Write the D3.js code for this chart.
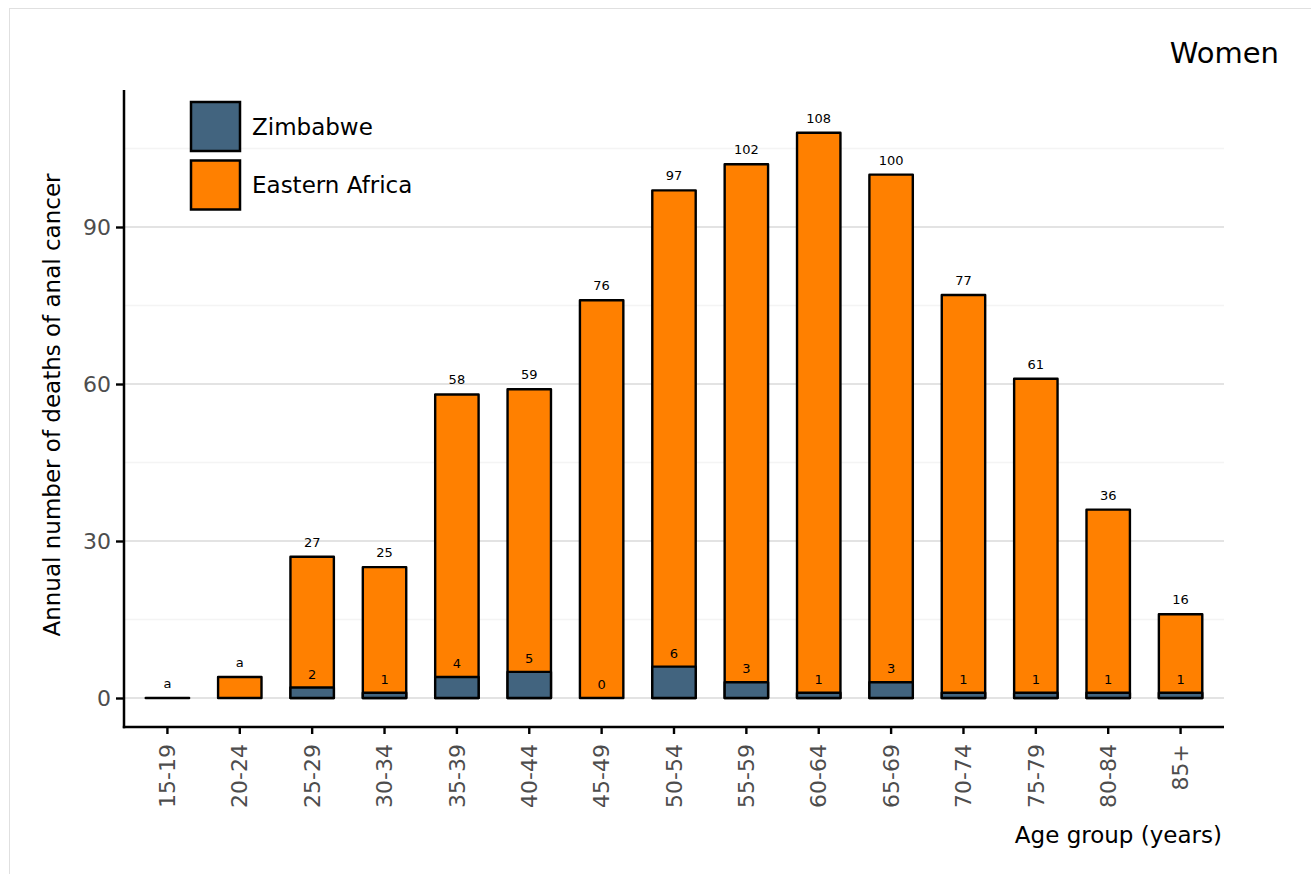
<!DOCTYPE html>
<html><head><meta charset="utf-8">
<script src="https://cdn.jsdelivr.net/npm/d3@7"></script>
<style>body{margin:0;background:#fff;} svg{display:block;font-family:"DejaVu Sans",sans-serif;}</style>
</head><body>
<svg id="c" width="1311" height="874"></svg>
<script>
const categories = ["15-19","20-24","25-29","30-34","35-39","40-44","45-49","50-54","55-59","60-64","65-69","70-74","75-79","80-84","85+"];
const easternAfrica = [0,4,27,25,58,59,76,97,102,108,100,77,61,36,16];
const easternLabels = ["a","a","27","25","58","59","76","97","102","108","100","77","61","36","16"];
const zimbabwe = [null,null,2,1,4,5,0,6,3,1,3,1,1,1,1];
const majorTicks = [0,30,60,90];
const minorTicks = [15,45,75,105];
const seriesNames = ["Zimbabwe","Eastern Africa"];
const colors = ["#42647f","#ff8000"];

const svg = d3.select("#c");
svg.append("rect").attr("x",9.5).attr("y",8.5).attr("width",1400).attr("height",1000)
  .attr("fill","none").attr("stroke","#e0e0e0").attr("stroke-width",1);

const L=124,R=1224,T=90,B=727;
const x = d3.scaleBand().domain(categories).range([L,R]).paddingInner(0.4).paddingOuter(0.3);
const y = d3.scaleLinear().domain([0,90]).range([698,227]);

const g = svg.append("g");
g.selectAll(".minor").data(minorTicks).join("line")
  .attr("x1",L).attr("x2",R).attr("y1",d=>y(d)).attr("y2",d=>y(d))
  .attr("stroke","#f4f4f4").attr("stroke-width",1.5);
g.selectAll(".major").data(majorTicks).join("line")
  .attr("x1",L).attr("x2",R).attr("y1",d=>y(d)).attr("y2",d=>y(d))
  .attr("stroke","#e3e3e3").attr("stroke-width",2);

function barPath(c,v){
  const x0=x(c), x1=x(c)+x.bandwidth(), y0=y(0), y1=y(v);
  return `M${x0},${y0}L${x0},${y1}L${x1},${y1}L${x1},${y0}Z`;
}
g.selectAll(".ea").data(categories).join("path")
  .attr("d",(d,i)=>barPath(d,easternAfrica[i]))
  .attr("fill",colors[1]).attr("stroke","#000").attr("stroke-width",2.4).attr("stroke-linejoin","round");
const zi = categories.map((c,i)=>({c,v:zimbabwe[i]})).filter(d=>d.v!==null && d.v>0);
g.selectAll(".zw").data(zi).join("path")
  .attr("d",d=>barPath(d.c,d.v))
  .attr("fill",colors[0]).attr("stroke","#000").attr("stroke-width",2.4).attr("stroke-linejoin","round");

g.selectAll(".eal").data(categories).join("text")
  .attr("x",d=>x(d)+x.bandwidth()/2).attr("y",(d,i)=>y(easternAfrica[i])-10)
  .attr("text-anchor","middle").attr("font-size",13).attr("fill","#000")
  .text((d,i)=>easternLabels[i]);
const zl = categories.map((c,i)=>({c,v:zimbabwe[i]})).filter(d=>d.v!==null);
g.selectAll(".zwl").data(zl).join("text")
  .attr("x",d=>x(d.c)+x.bandwidth()/2).attr("y",d=>y(d.v)-9)
  .attr("text-anchor","middle").attr("font-size",13).attr("fill","#000")
  .text(d=>d.v);

const yAxis = d3.axisLeft(y).tickValues(majorTicks).tickSize(8).tickPadding(5);
const ya = svg.append("g").attr("transform",`translate(${L},0)`).call(yAxis);
ya.select(".domain").remove();
ya.selectAll(".tick line").attr("stroke","#000").attr("stroke-width",2.4);
ya.selectAll(".tick text").attr("font-size",22).attr("fill","#4d4d4d").attr("font-family","DejaVu Sans");
svg.append("line").attr("x1",L).attr("x2",L).attr("y1",T).attr("y2",B+1.2).attr("stroke","#000").attr("stroke-width",2.5);

const xAxis = d3.axisBottom(x).tickSize(7).tickPadding(6);
const xa = svg.append("g").attr("transform",`translate(0,${B})`).call(xAxis);
xa.select(".domain").remove();
xa.selectAll(".tick line").attr("stroke","#000").attr("stroke-width",2.4);
xa.selectAll(".tick text").attr("font-size",22).attr("fill","#4d4d4d").attr("font-family","DejaVu Sans")
  .attr("transform","rotate(-90)").attr("text-anchor","end").attr("dy","0.35em").attr("x",-17).attr("y",0);
svg.append("line").attr("x1",L-1.2).attr("x2",R).attr("y1",B).attr("y2",B).attr("stroke","#000").attr("stroke-width",2.5);

svg.append("text").attr("transform","translate(60,405) rotate(-90)").attr("text-anchor","middle")
  .attr("font-size",23).attr("fill","#000").text("Annual number of deaths of anal cancer");
svg.append("text").attr("x",1222).attr("y",843).attr("text-anchor","end")
  .attr("font-size",23).attr("fill","#000").text("Age group (years)");
svg.append("text").attr("x",1279).attr("y",63).attr("text-anchor","end")
  .attr("font-size",29).attr("fill","#000").text("Women");

const lg = svg.append("g");
seriesNames.forEach((n,i)=>{
  lg.append("rect").attr("x",191).attr("y",102+i*58.5).attr("width",49).attr("height",49)
    .attr("fill",colors[i]).attr("stroke","#000").attr("stroke-width",2.5);
  lg.append("text").attr("x",252).attr("y",126.5+i*58.5).attr("dy","0.35em")
    .attr("font-size",23).attr("fill","#000").text(n);
});
</script>
</body></html>
